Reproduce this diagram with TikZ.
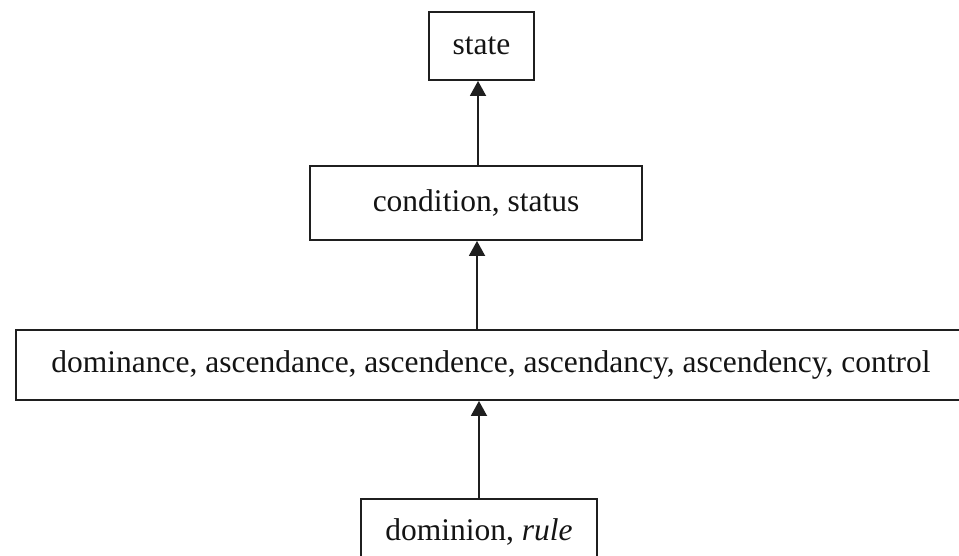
\documentclass[tikz,border=0pt]{standalone}
\usepackage{fontspec}
\setmainfont{Liberation Serif}
\usetikzlibrary{arrows.meta}
\begin{document}
\begin{tikzpicture}[x=1pt,y=-1pt,
  term/.style={draw=black!88, line width=1.9pt, fill=white, inner sep=0pt,
    font=\fontsize{31.5}{36}\selectfont, text=black!92},
  link/.style={draw=black!88, line width=1.9pt,
    -{Triangle[width=16pt,length=15pt]}}]
\useasboundingbox (0,0) rectangle (959,556);
% hierarchy, top to bottom
\node[term, minimum width=105pt, minimum height=68pt] (state) at (481.5,46) {state};
\node[term, minimum width=332pt, minimum height=74pt] (cond) at (476,203) {condition, status};
\node[term, anchor=west, minimum width=950pt, minimum height=70pt] (dom) at (15,365)
  {dominance, ascendance, ascendence, ascendancy, ascendency, control};
\node[term, minimum width=236pt, minimum height=66pt] (rule) at (479,532) {dominion, \textit{rule}};
% upward links
\draw[link] (rule.north) -- (rule.north |- dom.south);
\draw[link] ([xshift=-2pt]rule.north |- dom.north) -- ([xshift=-2pt]rule.north |- cond.south);
\draw[link] ([xshift=2pt]cond.north) -- ([xshift=2pt]cond.north |- state.south);
\end{tikzpicture}
\end{document}
